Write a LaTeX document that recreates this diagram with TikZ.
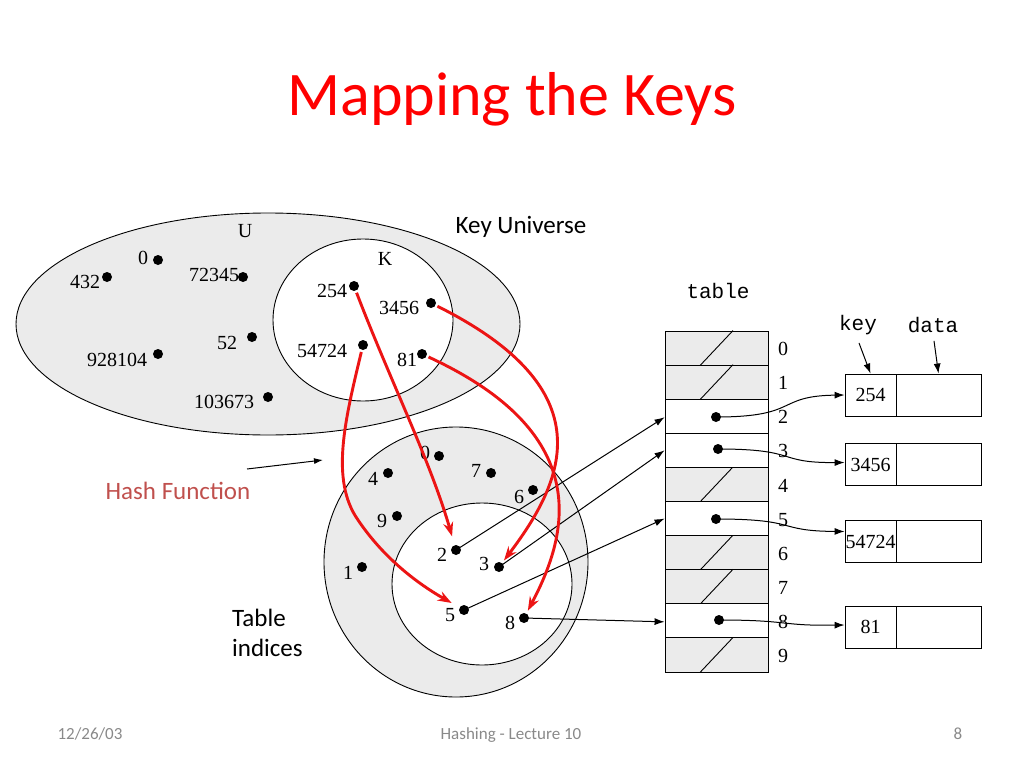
\documentclass[tikz,border=0pt]{standalone}
\usepackage{fontspec}
\setmainfont{Liberation Serif}
\newfontfamily\calfont{Carlito}
\newfontfamily\monofont{Liberation Mono}
\usetikzlibrary{arrows.meta}
\definecolor{titlered}{RGB}{255,0,0}
\definecolor{hashred}{RGB}{192,80,77}
\definecolor{arrowred}{RGB}{236,20,20}
\definecolor{lightfill}{RGB}{235,235,235}
\definecolor{footgray}{RGB}{137,137,137}
\begin{document}
\begin{tikzpicture}[x=1pt,y=-1pt,
  dot/.style={circle,fill=black,inner sep=0pt,minimum size=10pt},
  num/.style={inner sep=0pt,font=\fontsize{20}{22}\selectfont},
  caltext/.style={inner sep=0pt,font=\calfont\fontsize{25}{30}\selectfont},
  monotext/.style={inner sep=0pt,font=\monofont\fontsize{21}{24}\selectfont},
  foot/.style={inner sep=0pt,anchor=base,text=footgray,font=\calfont\fontsize{17}{20}\selectfont},
  tablerow/.style={draw,line width=0.9pt,minimum width=103pt,minimum height=34.1pt,inner sep=0pt},
  emptyrow/.style={tablerow,fill=lightfill},
  cell/.style={draw,line width=0.9pt,minimum height=42pt,inner sep=0pt,font=\fontsize{20}{22}\selectfont},
  blk/.style={line width=1pt,-{Latex[length=10pt,width=7pt]}},
  redarrow/.style={draw=arrowred,line width=2.9pt,-{Stealth[length=14pt,width=10pt]}}]
\useasboundingbox (0,0) rectangle (1024,768);

% title
\node[text=titlered,font=\calfont\fontsize{62}{70}\selectfont] (title) at (512,99) {Mapping the Keys};
\node[caltext] (keyuni) at (521,227) {Key Universe};

% universe ellipse and K set
\draw[line width=0.9pt,fill=lightfill] (268,324) ellipse [x radius=252pt, y radius=111pt];
\draw[line width=0.9pt,fill=white] (363,320) ellipse [x radius=90pt, y radius=81pt];
\node[num] (U) at (245,231) {U};
\node[num] (K) at (385,259) {K};

\node[dot] (u0) at (158,260) {};      \node[num] (lu0) at (143,258) {0};
\node[dot] (u432) at (107,277) {};    \node[num] (lu432) at (85,282) {432};
\node[dot] (u72345) at (243,277) {};  \node[num] (lu72345) at (214,275) {72345};
\node[dot] (k254) at (354,286) {};    \node[num] (lk254) at (332,291) {254};
\node[dot] (k3456) at (431,303) {};   \node[num] (lk3456) at (399,308) {3456};
\node[dot] (u52) at (252,337) {};     \node[num] (lu52) at (227,343) {52};
\node[dot] (k54724) at (363,345) {};  \node[num] (lk54724) at (322,351) {54724};
\node[dot] (k81) at (422,354) {};     \node[num] (lk81) at (407,360) {81};
\node[dot] (u928104) at (158,354) {}; \node[num] (lu928104) at (117,360) {928104};
\node[dot] (u103673) at (268,397) {}; \node[num] (lu103673) at (224,402) {103673};

% hash function
\node[caltext,text=hashred] (hash) at (178,491) {Hash Function};
\coordinate (hfa) at (247,469);
\coordinate (hfb) at (323,460);
\draw[line width=1pt,-{Latex[length=9pt,width=6pt]}] (hfa) -- (hfb);

% table indices circles
\draw[line width=0.9pt,fill=lightfill] (456,562) ellipse [x radius=132pt, y radius=135pt];
\draw[line width=0.9pt,fill=white] (482,584) ellipse [x radius=90pt, y radius=81pt];
\node[caltext,align=left,anchor=north west,font=\calfont\fontsize{25}{30}\selectfont] (tind) at (232,609) {Table\\indices};

\node[dot] (v0) at (439,456) {}; \node[num] (lv0) at (425,453) {0};
\node[dot] (v4) at (388,473) {}; \node[num] (lv4) at (373,479) {4};
\node[dot] (v7) at (491,473) {}; \node[num] (lv7) at (476,471) {7};
\node[dot] (v6) at (533,490) {}; \node[num] (lv6) at (519,497) {6};
\node[dot] (v9) at (397,516) {}; \node[num] (lv9) at (382,521) {9};
\node[dot] (v2) at (456,550) {}; \node[num] (lv2) at (442,555) {2};
\node[dot] (v3) at (499,567) {}; \node[num] (lv3) at (484,564) {3};
\node[dot] (v1) at (362,567) {}; \node[num] (lv1) at (348,573) {1};
\node[dot] (v5) at (464,610) {}; \node[num] (lv5) at (450,615) {5};
\node[dot] (v8) at (524,618) {}; \node[num] (lv8) at (510,623) {8};

% table
\node[monotext] (tablelbl) at (718,291) {table};
\foreach \i in {0,1,4,6,7,9}{
  \node[emptyrow] (r\i) at (716.5,{331+34.1*(\i+0.5)}) {};
  \draw[line width=0.9pt] ([xshift=-16.5pt]r\i.south) -- ([xshift=16.5pt]r\i.north);
}
\foreach \i in {2,3,5,8}{
  \node[tablerow,fill=white] (r\i) at (716.5,{331+34.1*(\i+0.5)}) {};
}
\foreach \i in {0,...,9}{
  \node[num] (i\i) at (783,{331+34.1*(\i+0.5)+1}) {\i};
}
\node[dot] (t2) at (716,417) {};
\node[dot] (t3) at (718,449) {};
\node[dot] (t5) at (716,519) {};
\node[dot] (t8) at (719,620) {};

% records
\node[monotext] (keyl) at (858,325) {key};
\node[monotext] (datal) at (933,325) {data};
\node[cell,minimum width=51pt] (k1) at (870.5,395) {254};
\node[cell,minimum width=85pt] (d1) at (938.5,395) {};
\node[cell,minimum width=51pt] (k2) at (870.5,464.5) {3456};
\node[cell,minimum width=85pt] (d2) at (938.5,464.5) {};
\node[cell,minimum width=51pt] (k3) at (870.5,541.5) {54724};
\node[cell,minimum width=85pt] (d3) at (938.5,541.5) {};
\node[cell,minimum width=51pt] (k4) at (870.5,627) {81};
\node[cell,minimum width=85pt] (d4) at (938.5,627) {};

\draw[blk] ([shift={(1,8)}]keyl.south) -- (k1.north);
\draw[blk] ([shift={(1,8)}]datal.south) -- (d1.north);

% table -> records
\draw[blk] (t2.center) .. controls (800,417) and (775,396) .. (k1.west);
\draw[blk] (t3.center) .. controls (800,449) and (775,463) .. ([yshift=2pt]k2.west);
\draw[blk] (t5.center) .. controls (800,519) and (775,531) .. ([yshift=10pt]k3.west);
\draw[blk] (t8.center) .. controls (790,620) and (780,626) .. ([yshift=2pt]k4.west);

% indices -> table
\draw[blk] (v2.center) -- ([yshift=-1pt]r2.west);
\draw[blk] (v3.center) -- (r3.west);
\draw[blk] (v5.center) -- (r5.west);
\draw[blk] (v8.center) -- ([yshift=-1pt]r8.west);

% hash function arrows
\draw[redarrow,shorten <=2pt,shorten >=9pt] (k254) .. controls (390,380) and (430,460) .. (v2);
\draw[redarrow,shorten <=2pt,shorten >=3pt] (k3456) .. controls (605,390) and (565,480) .. (v3);
\draw[redarrow,shorten <=2pt,shorten >=3pt] (k81) .. controls (600,436) and (565,540) .. (v8);
\draw[redarrow,shorten <=2pt,shorten >=9pt] (k54724) .. controls (345,420) and (330,480) .. (358,520) .. controls (385,560) and (420,585) .. (v5);

% footer
\node[foot] (date) at (90,739) {12/26/03};
\node[foot] (lect) at (511,739) {Hashing - Lecture 10};
\node[foot] (page) at (958,739) {8};
\end{tikzpicture}
\end{document}
